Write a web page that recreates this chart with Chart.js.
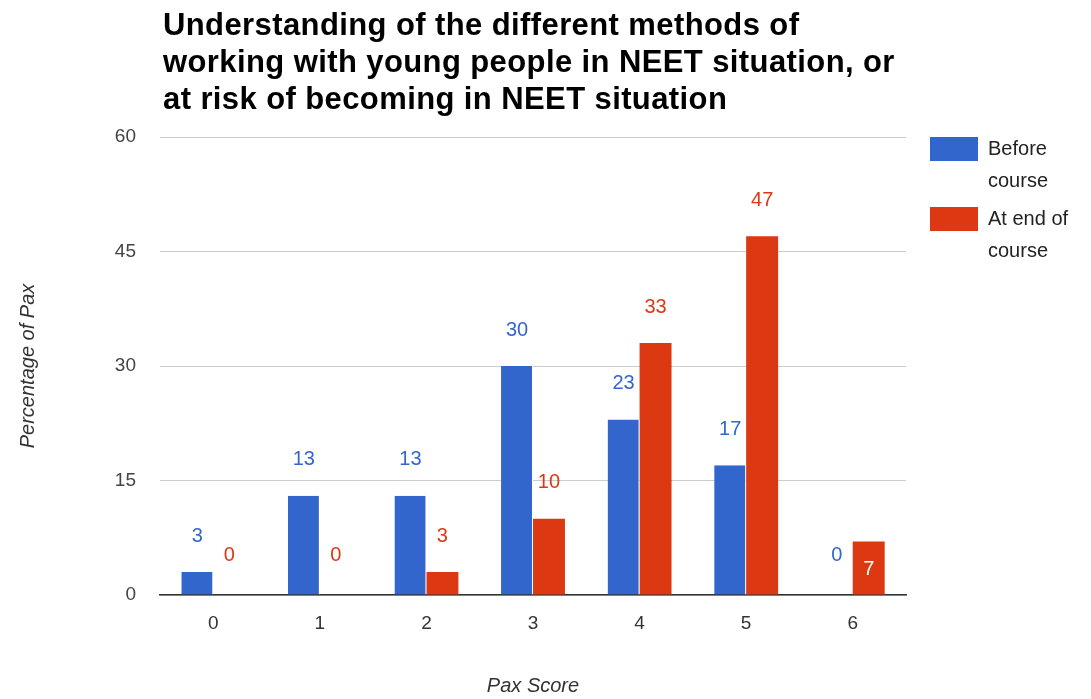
<!DOCTYPE html>
<html>
<head>
<meta charset="utf-8">
<script src="https://cdn.jsdelivr.net/npm/chart.js@4"></script>
<style>
    html, body { margin: 0; padding: 0; background: #fff; }
    #wrap { width: 1091px; height: 699px; position: relative; }
</style>
</head>
<body>
<div id="wrap"><canvas id="chart"></canvas></div>
<script>
(function() {
    const titleLines = [
        'Understanding of the different methods of',
        'working with young people in NEET situation, or',
        'at risk of becoming in NEET situation',
    ];
    const scores = ['0', '1', '2', '3', '4', '5', '6'];
    const beforeCourse = [3, 13, 13, 30, 23, 17, 0];
    const endOfCourse = [0, 0, 3, 10, 33, 47, 7];
    const yTicks = [0, 15, 30, 45, 60];
    // [dataset, index] of value labels that sit inside their bar
    const insideLabels = [[1, 6]];

    const blue = '#3366cc';
    const red = '#dc3912';
    const font = '"Liberation Sans", Arial, sans-serif';

    const legendItems = [
        { colour: blue, lines: ['Before', 'course'] },
        { colour: red, lines: ['At end of', 'course'] },
    ];

    // title, legend and value labels, drawn the way the original tool does them
    const extras = {
        id: 'extras',
        afterDatasetsDraw(chart) {
            const ctx = chart.ctx;
            const area = chart.chartArea;
            ctx.save();

            ctx.fillStyle = '#000';
            ctx.font = 'bold 31px ' + font;
            ctx.letterSpacing = '0.4px';
            ctx.textAlign = 'left';
            ctx.textBaseline = 'alphabetic';
            titleLines.forEach((line, i) => {
                ctx.fillText(line, 163, 35 + i * 37);
            });
            ctx.letterSpacing = '0px';

            ctx.font = '20px ' + font;
            ctx.textBaseline = 'middle';
            legendItems.forEach((item, i) => {
                let top = 137 + i * 70;
                ctx.fillStyle = item.colour;
                ctx.fillRect(930, top, 48, 24);
                ctx.fillStyle = '#222';
                item.lines.forEach((line, j) => {
                    ctx.fillText(line, 988, top + 12 + j * 32);
                });
            });

            ctx.font = '20px ' + font;
            ctx.textAlign = 'center';
            chart.data.datasets.forEach((ds, di) => {
                let meta = chart.getDatasetMeta(di);
                meta.data.forEach((bar, i) => {
                    let value = ds.data[i];
                    let y = bar.y - 36;
                    let colour = ds.backgroundColor;
                    if (insideLabels.some(p => p[0] === di && p[1] === i)) {
                        y = (bar.y + bar.base) / 2 + 1;
                        colour = '#fff';
                    } else if (value === 0) {
                        y = area.bottom - 40;
                    }
                    ctx.fillStyle = colour;
                    ctx.fillText(String(value), bar.x, y);
                });
            });

            ctx.restore();
        },
    };

    new Chart(document.getElementById('chart'), {
        type: 'bar',
        data: {
            labels: scores,
            datasets: [
                {
                    label: 'Before course',
                    data: beforeCourse,
                    backgroundColor: blue,
                    borderColor: '#fff',
                    borderWidth: { left: 0, right: 1, top: 0, bottom: 0 },
                },
                {
                    label: 'At end of course',
                    data: endOfCourse,
                    backgroundColor: red,
                    borderWidth: 0,
                },
            ],
        },
        options: {
            responsive: true,
            maintainAspectRatio: false,
            animation: false,
            categoryPercentage: 0.6,
            barPercentage: 1.0,
            layout: {
                padding: { top: 137, right: 185, bottom: 0, left: 0 },
            },
            plugins: {
                legend: { display: false },
                title: { display: false },
                tooltip: { enabled: false },
            },
            scales: {
                x: {
                    grid: { display: false, drawTicks: false },
                    border: { color: '#333', width: 1.5 },
                    ticks: {
                        color: '#333',
                        font: { family: font, size: 19 },
                        padding: 17,
                    },
                    title: {
                        display: true,
                        text: 'Pax Score',
                        color: '#333',
                        font: { family: font, size: 20, style: 'italic' },
                        padding: { top: 0, bottom: 1 },
                    },
                    afterFit(scale) { scale.height = 699 - 595; },
                },
                y: {
                    min: 0,
                    max: 60,
                    afterBuildTicks(scale) {
                        scale.ticks = yTicks.map(v => ({ value: v }));
                    },
                    grid: { color: '#cccccc', drawTicks: false },
                    border: { display: false },
                    ticks: {
                        color: '#444',
                        font: { family: font, size: 19 },
                        padding: 24,
                    },
                    title: {
                        display: true,
                        text: 'Percentage of Pax',
                        color: '#333',
                        font: { family: font, size: 20, style: 'italic' },
                        padding: { top: 16, bottom: 0 },
                    },
                    afterFit(scale) { scale.width = 160; },
                },
            },
        },
        plugins: [extras],
    });
})();
</script>
</body>
</html>
